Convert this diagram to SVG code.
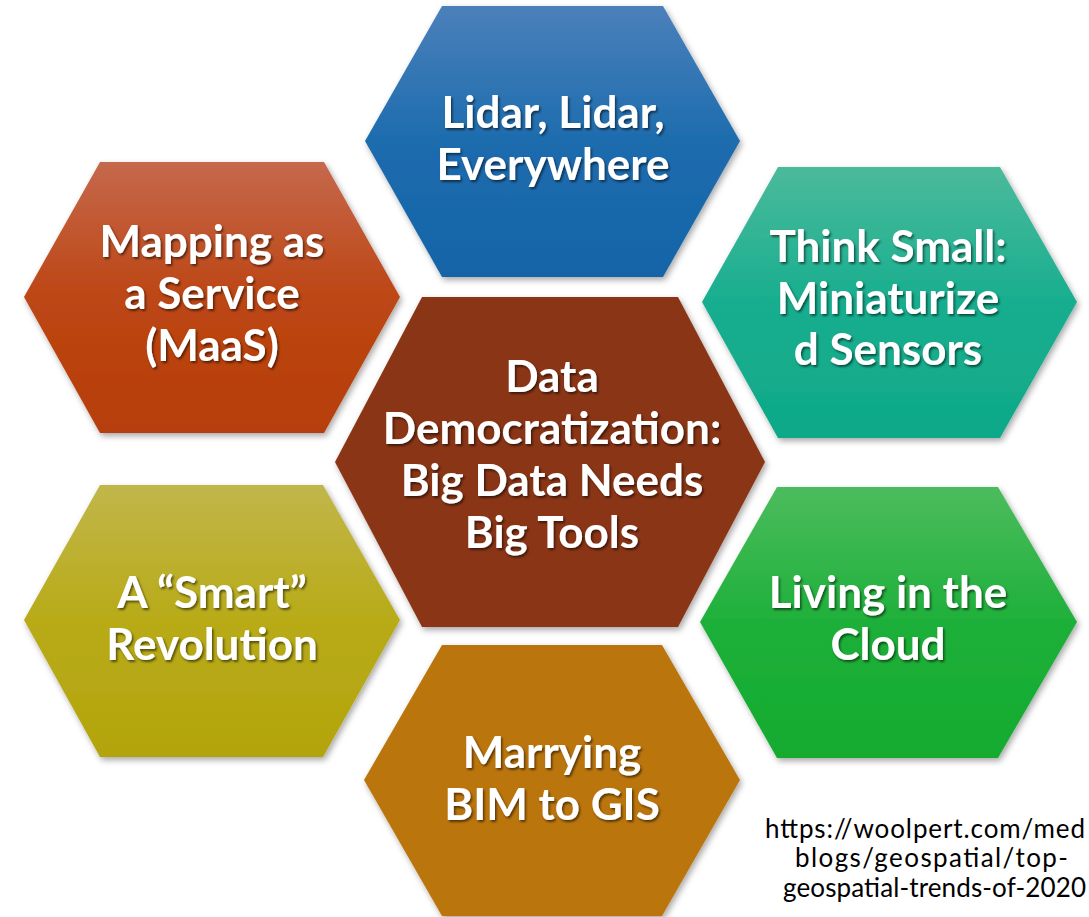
<svg xmlns="http://www.w3.org/2000/svg" width="1089" height="917" viewBox="0 0 1089 917">
<style>
.lbl{font-family:Lato,"Liberation Sans",Arial,sans-serif;font-weight:700;font-size:44px;fill:#ffffff;text-anchor:middle}
.url{font-family:Lato,"Liberation Sans",Arial,sans-serif;font-weight:400;font-size:26px;fill:#000000}
.hex{filter:url(#hs)}
.txt{filter:url(#ts)}
</style>
<defs>
<filter id="hs" x="-10%" y="-10%" width="125%" height="125%">
<feDropShadow dx="2" dy="3" stdDeviation="3" flood-color="#000" flood-opacity="0.35"/>
</filter>
<filter id="ts" x="-10%" y="-20%" width="120%" height="150%">
<feDropShadow dx="1.5" dy="2" stdDeviation="1.2" flood-color="#000" flood-opacity="0.55"/>
</filter>
<linearGradient id="gBlue" x1="0" y1="0" x2="0" y2="1">
<stop offset="0" stop-color="#4b80ba"/><stop offset="0.5" stop-color="#1d6cae"/><stop offset="1" stop-color="#1464a8"/>
</linearGradient>
<linearGradient id="gRed" x1="0" y1="0" x2="0" y2="1">
<stop offset="0" stop-color="#c5684c"/><stop offset="0.5" stop-color="#bd4614"/><stop offset="1" stop-color="#b63e08"/>
</linearGradient>
<linearGradient id="gTeal" x1="0" y1="0" x2="0" y2="1">
<stop offset="0" stop-color="#4bba9b"/><stop offset="0.5" stop-color="#17ae8f"/><stop offset="1" stop-color="#0fa988"/>
</linearGradient>
<linearGradient id="gOlive" x1="0" y1="0" x2="0" y2="1">
<stop offset="0" stop-color="#c1b64a"/><stop offset="0.5" stop-color="#b8ab18"/><stop offset="1" stop-color="#b3a40c"/>
</linearGradient>
<linearGradient id="gGreen" x1="0" y1="0" x2="0" y2="1">
<stop offset="0" stop-color="#4cbc5d"/><stop offset="0.5" stop-color="#1eb03a"/><stop offset="1" stop-color="#13ab2f"/>
</linearGradient>
</defs>
<rect width="1089" height="917" fill="#ffffff"/>
<g id="connectors"></g>
<g id="node-lidar">
<polygon class="hex" points="442,6 663,6 740,141 663,277 442,277 365,141" fill="url(#gBlue)"/>
<g class="txt"><text class="lbl" x="553" y="128">Lidar, Lidar,</text><text class="lbl" x="553" y="180">Everywhere</text></g>
</g>
<g id="node-maas">
<polygon class="hex" points="100,162 324,162 400,297 324,433 100,433 24,297" fill="url(#gRed)"/>
<g class="txt"><text class="lbl" x="212" y="257">Mapping as</text><text class="lbl" x="212" y="309">a Service</text><text class="lbl" x="212" y="361">(MaaS)</text></g>
</g>
<g id="node-sensors">
<polygon class="hex" points="778,167 1000,167 1077,302 1000,438 778,438 702,302" fill="url(#gTeal)"/>
<g class="txt"><text class="lbl" x="888" y="262">Think Small:</text><text class="lbl" x="888" y="314">Miniaturize</text><text class="lbl" x="888" y="365">d Sensors</text></g>
</g>
<g id="node-center">
<polygon class="hex" points="422,297 678,297 765,462 678,627 422,627 335,462" fill="#8a3514"/>
<g class="txt"><text class="lbl" x="552" y="392">Data</text><text class="lbl" x="552" y="444">Democratization:</text><text class="lbl" x="552" y="496">Big Data Needs</text><text class="lbl" x="552" y="548">Big Tools</text></g>
</g>
<g id="node-smart">
<polygon class="hex" points="100,485 323,485 400,620 323,757 100,757 24,620" fill="url(#gOlive)"/>
<g class="txt"><text class="lbl" x="212" y="608">A “Smart”</text><text class="lbl" x="212" y="660">Revolution</text></g>
</g>
<g id="node-cloud">
<polygon class="hex" points="777,487 998,487 1077,622 998,758 777,758 700,622" fill="url(#gGreen)"/>
<g class="txt"><text class="lbl" x="888" y="608">Living in the</text><text class="lbl" x="888" y="660">Cloud</text></g>
</g>
<g id="node-bim">
<polygon class="hex" points="442,645 662,645 740,780 662,916 442,916 364,780" fill="#bb750b"/>
<g class="txt"><text class="lbl" x="552" y="768">Marrying</text><text class="lbl" x="552" y="820">BIM to GIS</text></g>
</g>
<g id="source">
<text class="url" x="765" y="838" textLength="320">https://woolpert.com/med</text>
<text class="url" x="795" y="867" textLength="273">blogs/geospatial/top-</text>
<text class="url" x="783" y="897" textLength="303">geospatial-trends-of-2020</text>
</g>
</svg>
